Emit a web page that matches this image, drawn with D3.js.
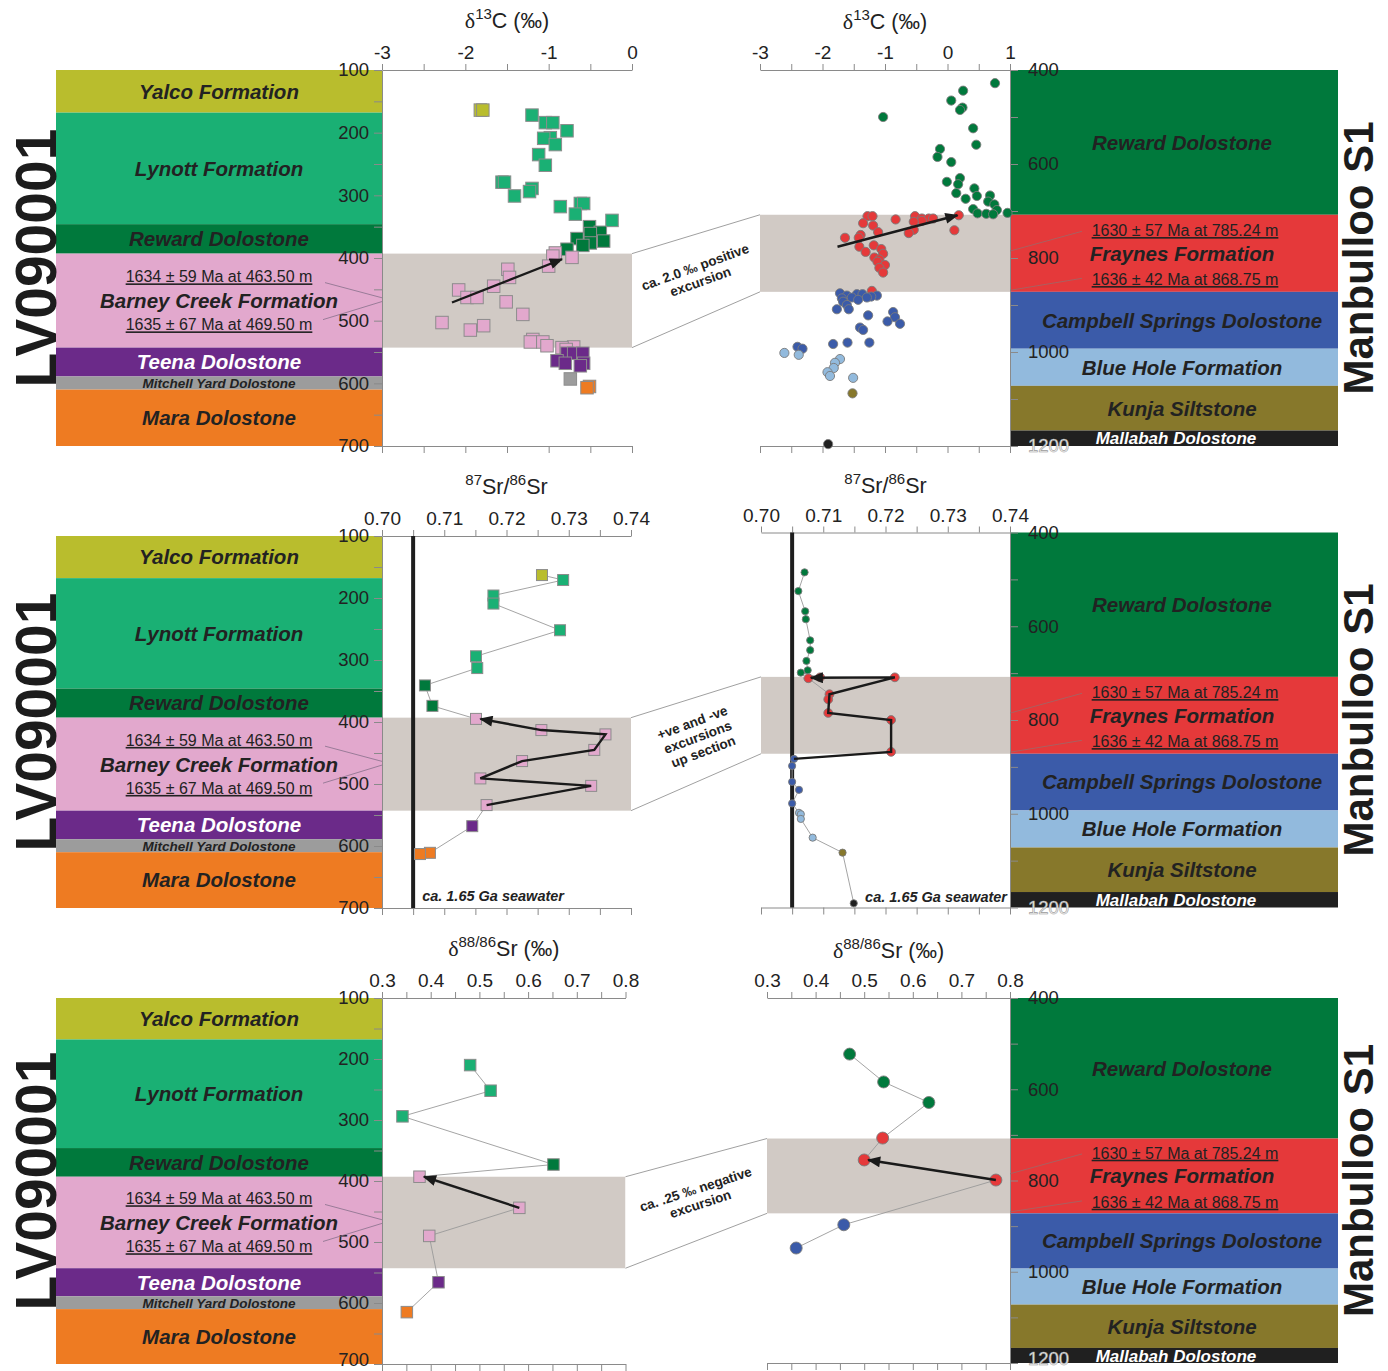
<!DOCTYPE html>
<html>
<head>
<meta charset="utf-8">
<script src="https://cdn.jsdelivr.net/npm/d3@7"></script>
<style>
  body { margin: 0; background: #fff; }
  svg text { font-family: "Liberation Sans", Arial, Helvetica, sans-serif; }
</style>
</head>
<body>
<svg id="chart" width="1388" height="1371"></svg>
<script>
// ---------- Stratigraphy: LV090001 (left) and Manbulloo S1 (right) ----------
const lvUnitKeys  = ["YAL", "LYN", "REW", "BCF", "TEE", "MYD", "MAR"];
const lvUnitNames = ["Yalco Formation", "Lynott Formation", "Reward Dolostone", "Barney Creek Formation",
                     "Teena Dolostone", "Mitchell Yard Dolostone", "Mara Dolostone"];
const lvUnitTops  = [100, 168, 346, 393, 543, 589, 610];
const lvUnitBases = [168, 346, 393, 543, 589, 610, 700];

const mbUnitKeys  = ["REW", "FRA", "CSD", "BHF", "KUN", "MAL"];
const mbUnitNames = ["Reward Dolostone", "Fraynes Formation", "Campbell Springs Dolostone",
                     "Blue Hole Formation", "Kunja Siltstone", "Mallabah Dolostone"];
const mbUnitTops  = [400, 708, 872, 993, 1072, 1167];
const mbUnitBases = [708, 872, 993, 1072, 1167, 1200];

// Re-Os ages quoted inside the columns
const lvAgeLabels = ["1634 ± 59 Ma at 463.50 m", "1635 ± 67 Ma at 469.50 m"];
const lvAgeDepths = [463.5, 469.5];
const mbAgeLabels = ["1630 ± 57 Ma at 785.24 m", "1636 ± 42 Ma at 868.75 m"];
const mbAgeDepths = [785.24, 868.75];

// Depth tick labels (m)
const lvDepthLabels = ["100", "200", "300", "400", "500", "600", "700"];
const mbDepthLabels = ["400", "600", "800", "1000", "1200"];

// Isotope axis tick labels
const c13LabelsL  = ["-3", "-2", "-1", "0"];
const c13LabelsR  = ["-3", "-2", "-1", "0", "1"];
const sr87Labels  = ["0.70", "0.71", "0.72", "0.73", "0.74"];
const sr88Labels  = ["0.3", "0.4", "0.5", "0.6", "0.7", "0.8"];

// ---------- δ13C data: [depth m, δ13C ‰, unit] ----------
const lvC13 = [
  [164,-1.82,"YAL"],[164,-1.79,"YAL"],
  [172,-1.20,"LYN"],[184,-1.04,"LYN"],[184,-0.95,"LYN"],[197,-0.78,"LYN"],[208,-0.98,"LYN"],[209,-1.06,"LYN"],
  [219,-0.92,"LYN"],[235,-1.12,"LYN"],[252,-1.04,"LYN"],[279,-1.56,"LYN"],[279,-1.53,"LYN"],[289,-1.20,"LYN"],
  [294,-1.23,"LYN"],[301,-1.41,"LYN"],[313,-0.62,"LYN"],[313,-0.58,"LYN"],[318,-0.86,"LYN"],[330,-0.68,"LYN"],
  [340,-0.24,"LYN"],
  [350,-0.51,"REW"],[359,-0.38,"REW"],[361,-0.50,"REW"],[369,-0.66,"REW"],[373,-0.34,"REW"],[376,-0.50,"REW"],
  [380,-0.59,"REW"],[386,-0.78,"REW"],
  [392,-0.92,"BCF"],[397,-0.95,"BCF"],[399,-0.72,"BCF"],[413,-1.00,"BCF"],[418,-1.49,"BCF"],[431,-1.47,"BCF"],
  [445,-1.66,"BCF"],[451,-2.08,"BCF"],[463,-1.98,"BCF"],[463,-1.86,"BCF"],[470,-1.51,"BCF"],[490,-1.31,"BCF"],
  [503,-2.28,"BCF"],[508,-1.78,"BCF"],[515,-1.94,"BCF"],[530,-1.19,"BCF"],[534,-1.22,"BCF"],[534,-1.07,"BCF"],
  [540,-1.02,"BCF"],[542,-0.70,"BCF"],[543,-0.84,"BCF"],[546,-0.79,"BCF"],
  [552,-0.78,"TEE"],[552,-0.70,"TEE"],[552,-0.59,"TEE"],[564,-0.90,"TEE"],[568,-0.80,"TEE"],[568,-0.58,"TEE"],
  [572,-0.62,"TEE"],
  [593,-0.74,"MYD"],
  [605,-0.51,"MAR"],[607,-0.54,"MAR"]
];
const mbC13 = [
  [428,0.76,"REW"],[444,0.25,"REW"],[465,0.06,"REW"],[480,0.24,"REW"],[485,0.20,"REW"],[500,-1.03,"REW"],
  [524,0.41,"REW"],[559,0.46,"REW"],[568,-0.12,"REW"],[585,-0.16,"REW"],[596,0.06,"REW"],[630,0.20,"REW"],
  [638,-0.01,"REW"],[643,0.17,"REW"],[652,0.43,"REW"],[662,0.14,"REW"],[667,0.68,"REW"],[668,0.47,"REW"],
  [674,0.29,"REW"],[680,0.65,"REW"],[686,0.75,"REW"],[696,0.41,"REW"],[698,0.79,"REW"],[704,0.96,"REW"],
  [705,0.48,"REW"],[706,0.62,"REW"],[707,0.73,"REW"],
  [709,0.18,"FRA"],[711,-1.28,"FRA"],[711,-1.20,"FRA"],[711,-0.52,"FRA"],[716,-0.41,"FRA"],[716,-0.30,"FRA"],
  [716,-0.23,"FRA"],[718,-0.83,"FRA"],[721,-0.41,"FRA"],[723,-0.54,"FRA"],[726,-1.35,"FRA"],[731,-1.19,"FRA"],
  [740,-0.54,"FRA"],[741,0.11,"FRA"],[745,-1.11,"FRA"],[747,-0.62,"FRA"],[751,-1.39,"FRA"],[757,-1.42,"FRA"],
  [757,-1.64,"FRA"],[773,-1.18,"FRA"],[776,-1.41,"FRA"],[781,-1.06,"FRA"],[787,-1.31,"FRA"],[791,-1.03,"FRA"],
  [799,-1.17,"FRA"],[803,-1.09,"FRA"],[808,-1.12,"FRA"],[815,-1.00,"FRA"],[821,-1.09,"FRA"],[831,-1.03,"FRA"],
  [870,-1.21,"FRA"],
  [875,-1.72,"CSD"],[877,-1.45,"CSD"],[877,-1.36,"CSD"],[880,-1.61,"CSD"],[880,-1.13,"CSD"],[882,-1.22,"CSD"],
  [884,-1.53,"CSD"],[884,-1.29,"CSD"],[886,-1.69,"CSD"],[889,-1.43,"CSD"],[893,-1.67,"CSD"],[900,-1.61,"CSD"],
  [909,-1.77,"CSD"],[909,-1.58,"CSD"],[915,-0.87,"CSD"],[922,-1.27,"CSD"],[926,-0.84,"CSD"],[935,-0.96,"CSD"],
  [940,-0.76,"CSD"],[948,-1.40,"CSD"],[953,-1.35,"CSD"],[980,-1.60,"CSD"],[980,-1.25,"CSD"],[983,-1.83,"CSD"],
  [989,-2.40,"CSD"],[993,-2.32,"CSD"],
  [1002,-2.61,"BHF"],[1006,-2.38,"BHF"],[1015,-1.72,"BHF"],[1023,-1.80,"BHF"],[1034,-1.82,"BHF"],
  [1043,-1.92,"BHF"],[1051,-1.88,"BHF"],[1055,-1.51,"BHF"],
  [1088,-1.52,"KUN"],
  [1196,-1.91,"MAL"]
];
const lvC13Trend = [[471,-2.16],[402,-0.84]];
const mbC13Trend = [[776,-1.76],[709,0.16]];

// ---------- 87Sr/86Sr data ----------
const lvSr87 = [
  [163,0.7257,"YAL"],
  [171,0.7291,"LYN"],[196,0.7179,"LYN"],[209,0.7179,"LYN"],[252,0.7286,"LYN"],[294,0.7151,"LYN"],[313,0.7153,"LYN"],
  [341,0.7069,"REW"],[374,0.7081,"REW"],
  [395,0.7151,"BCF"],[413,0.7256,"BCF"],[420,0.7359,"BCF"],[445,0.7341,"BCF"],[463,0.7225,"BCF"],
  [491,0.7158,"BCF"],[503,0.7336,"BCF"],[534,0.7168,"BCF"],
  [568,0.7145,"TEE"],
  [611,0.7077,"MAR"],[613,0.7061,"MAR"]
];
const mbSr87 = [
  [485,0.7070,"REW"],[525,0.7060,"REW"],[568,0.7071,"REW"],[585,0.7072,"REW"],[630,0.7079,"REW"],
  [651,0.7079,"REW"],[674,0.7073,"REW"],[694,0.7075,"REW"],[699,0.7064,"REW"],
  [709,0.7095,"FRA"],[709,0.7215,"FRA"],[711,0.7076,"FRA"],[745,0.7110,"FRA"],[756,0.7108,"FRA"],
  [785,0.7108,"FRA"],[800,0.7209,"FRA"],[868,0.7209,"FRA"],
  [883,0.7053,"CSD"],[898,0.7050,"CSD"],[932,0.7050,"CSD"],[949,0.7061,"CSD"],[978,0.7050,"CSD"],
  [998,0.7061,"BHF"],[1001,0.7064,"BHF"],[1011,0.7064,"BHF"],[1051,0.7083,"BHF"],
  [1083,0.7131,"KUN"],
  [1191,0.7149,"MAL"]
];
const lvSr87Trend = [[534,0.7168],[503,0.7336],[491,0.7158],[463,0.7225],[445,0.7341],[420,0.7359],[413,0.7256],[395,0.7158]];
const mbSr87Trend = [[883,0.7053],[868,0.7209],[800,0.7209],[785,0.7108],[745,0.7110],[709,0.7215],[710,0.7080]];
const seawaterSr = 0.705;

// ---------- δ88/86Sr data ----------
const lvSr88 = [
  [210,0.481,"LYN"],[252,0.523,"LYN"],[294,0.342,"LYN"],
  [373,0.652,"REW"],
  [393,0.377,"BCF"],[444,0.582,"BCF"],[490,0.397,"BCF"],
  [566,0.416,"TEE"],
  [615,0.351,"MAR"]
];
const mbSr88 = [
  [523,0.470,"REW"],[584,0.540,"REW"],[629,0.633,"REW"],
  [707,0.538,"FRA"],[755,0.500,"FRA"],[799,0.771,"FRA"],
  [897,0.458,"CSD"],[948,0.360,"CSD"]
];
const lvSr88Trend = [[444,0.582],[393,0.386]];
const mbSr88Trend = [[799,0.771],[755,0.508]];

// ---------- styling ----------
const unitColor = {
  YAL: "#b9bd2d", LYN: "#1ab074", REW: "#00793c", BCF: "#e2a8cd", TEE: "#6b2a89", MYD: "#9c9c9c",
  MAR: "#ee7b22", FRA: "#e5393a", CSD: "#3b5ba9", BHF: "#92badd", KUN: "#87782b", MAL: "#202020"
};
const whiteText = new Set(["TEE", "MAL"]);
const BAND = "#d1cac5";
const AXIS = "#8a8a8a";
const INK = "#222";

const panels = [
  { title: [["δ","g"],["13","s"],["C (‰)",""]],
    labelsL: c13LabelsL, labelsR: c13LabelsR, step: 0.5,
    left: lvC13, right: mbC13, trendL: lvC13Trend, trendR: mbC13Trend, connect: false,
    note: ["ca. 2.0 ‰ positive", "excursion"], seawater: false },
  { title: [["87","s"],["Sr/",""],["86","s"],["Sr",""]],
    labelsL: sr87Labels, labelsR: sr87Labels, step: 0.005,
    left: lvSr87, right: mbSr87, trendL: lvSr87Trend, trendR: mbSr87Trend, connect: true,
    note: ["+ve and -ve", "excursions", "up section"], seawater: true },
  { title: [["δ","g"],["88/86","s"],["Sr (‰)",""]],
    labelsL: sr88Labels, labelsR: sr88Labels, step: 0.05,
    left: lvSr88, right: mbSr88, trendL: lvSr88Trend, trendR: mbSr88Trend, connect: true,
    note: ["ca. .25 ‰ negative", "excursion"], seawater: false }
];

// pixel frame of each row of plots
const layout = [
  { yL: [70, 446],    yR: [70, 446],      xL: [382, 632],   xR: [760, 1010], sq: 12.5, r: 4.6, rBig: 4.6 },
  { yL: [536, 908],   yR: [532.5, 907.5], xL: [382, 631],   xR: [761, 1010], sq: 11,   r: 3.6, rBig: 4.4 },
  { yL: [998, 1364],  yR: [998, 1363],    xL: [382, 625.5], xR: [767, 1010], sq: 11.5, r: 6,   rBig: 6 }
];

const svg = d3.select("#chart");
const defs = svg.append("defs");
defs.append("marker")
  .attr("id", "arrowhead")
  .attr("viewBox", "0 0 12 10")
  .attr("refX", 11).attr("refY", 5)
  .attr("markerWidth", 14).attr("markerHeight", 11)
  .attr("markerUnits", "userSpaceOnUse")
  .attr("orient", "auto")
  .append("path").attr("d", "M0,0 L12,5 L0,10 Z").attr("fill", "#1a1a1a");

function labelFormat(labels) {
  return d => {
    const s = labels.find(l => Math.abs(+l - d) < 1e-9);
    return s === undefined ? "" : s;
  };
}

function styleAxis(sel, size) {
  sel.attr("font-family", null).attr("font-size", null);
  sel.select(".domain").attr("stroke", AXIS).attr("stroke-width", 1);
  sel.selectAll(".tick line").attr("stroke", AXIS).attr("stroke-width", 1);
  sel.selectAll(".tick text").attr("fill", INK).attr("font-size", size);
}

// keep depth labels at the foot of the page inside the canvas
function liftBottomLabels(sel) {
  sel.selectAll(".tick").each(function () {
    const tr = this.getAttribute("transform") || "";
    const m = /translate\([^,]+,([^)]+)\)/.exec(tr);
    if (m && +m[1] > 1358) d3.select(this).select("text").attr("dy", "0.1em");
  });
}

function drawTitle(g, x, y, parts) {
  const t = g.append("text").attr("x", x).attr("y", y).attr("text-anchor", "middle")
    .attr("font-size", 21.5).attr("fill", INK);
  let raised = false;
  parts.forEach(([s, kind]) => {
    const ts = t.append("tspan").text(s);
    if (kind === "s") {
      ts.attr("font-size", 15).attr("dy", raised ? 0 : -9);
      raised = true;
    } else {
      if (raised) { ts.attr("dy", 9); raised = false; }
      if (kind === "g") ts.attr("font-family", '"Liberation Serif", "DejaVu Serif", serif').attr("font-size", 22);
    }
  });
}

function drawPanel(p, i) {
  const L = layout[i];
  const g = svg.append("g");
  const yL = d3.scaleLinear([100, 700], L.yL);
  const yR = d3.scaleLinear([400, 1200], L.yR);
  const xL = d3.scaleLinear([+p.labelsL[0], +p.labelsL[p.labelsL.length - 1]], L.xL);
  const xR = d3.scaleLinear([+p.labelsR[0], +p.labelsR[p.labelsR.length - 1]], L.xR);

  // excursion intervals: Barney Creek Fm (LV090001) and Fraynes Fm (Manbulloo S1)
  const bL = [yL(lvUnitTops[3]), yL(lvUnitBases[3])];
  const bR = [yR(mbUnitTops[1]), yR(mbUnitBases[1])];
  g.append("rect").attr("x", L.xL[0]).attr("y", bL[0]).attr("width", L.xL[1] - L.xL[0])
    .attr("height", bL[1] - bL[0]).attr("fill", BAND);
  g.append("rect").attr("x", L.xR[0]).attr("y", bR[0]).attr("width", L.xR[1] - L.xR[0])
    .attr("height", bR[1] - bR[0]).attr("fill", BAND);

  // correlation panel between the two bands
  const x0 = L.xL[1], x1 = L.xR[0];
  g.append("polygon")
    .attr("points", [[x0, bL[0]], [x1, bR[0]], [x1, bR[1]], [x0, bL[1]]].map(d => d.join(",")).join(" "))
    .attr("fill", "#fff");
  [[bL[0], bR[0]], [bL[1], bR[1]]].forEach(([a, b]) =>
    g.append("line").attr("x1", x0).attr("y1", a).attr("x2", x1).attr("y2", b)
      .attr("stroke", "#a0a0a0").attr("stroke-width", 1));
  const ang = Math.atan2(bR[0] - bL[0], x1 - x0) * 180 / Math.PI - 3;
  const cx = (x0 + x1) / 2 + 2, cy = (bL[0] + bL[1] + bR[0] + bR[1]) / 4 - 2;
  const note = g.append("text").attr("transform", `translate(${cx},${cy}) rotate(${ang})`)
    .attr("text-anchor", "middle").attr("font-size", 13.5).attr("font-weight", "bold").attr("fill", INK);
  const lh = 15.5;
  p.note.forEach((s, k) => note.append("tspan").attr("x", 0)
    .attr("y", (k - (p.note.length - 1) / 2) * lh + 4).text(s));

  // LV090001 column
  const colL = g.append("g");
  lvUnitKeys.forEach((k, j) => {
    const t = yL(lvUnitTops[j]), b = yL(lvUnitBases[j]);
    colL.append("rect").attr("x", 56).attr("y", t).attr("width", 382 - 56).attr("height", b - t)
      .attr("fill", unitColor[k]);
  });
  // Manbulloo S1 column
  const colR = g.append("g");
  mbUnitKeys.forEach((k, j) => {
    const t = yR(mbUnitTops[j]), b = yR(mbUnitBases[j]);
    colR.append("rect").attr("x", 1010).attr("y", t).attr("width", 1338 - 1010).attr("height", b - t)
      .attr("fill", unitColor[k]);
  });

  // depth axes
  const axL = g.append("g").attr("transform", `translate(${L.xL[0]},0)`)
    .call(d3.axisLeft(yL).tickValues(d3.range(100, 701, 50)).tickFormat(labelFormat(lvDepthLabels))
      .tickSize(8).tickSizeOuter(0).tickPadding(5));
  styleAxis(axL, 18.5);
  liftBottomLabels(axL);
  const axR = g.append("g").attr("transform", `translate(${L.xR[1]},0)`)
    .call(d3.axisRight(yR).tickValues(d3.range(400, 1201, 100)).tickFormat(labelFormat(mbDepthLabels))
      .tickSize(8).tickSizeOuter(0).tickPadding(10));
  styleAxis(axR, 18.5);
  liftBottomLabels(axR);
  axR.selectAll(".tick text").filter(d => d === 1200)
    .attr("fill", "#f4f4f4").attr("stroke", "#9a9a9a").attr("stroke-width", 0.6);

  // isotope axes, top and bottom of each plot
  const ticksL = d3.range(xL.domain()[0], xL.domain()[1] + p.step / 2, p.step);
  const ticksR = d3.range(xR.domain()[0], xR.domain()[1] + p.step / 2, p.step);
  [[xL, ticksL, p.labelsL, L.yL], [xR, ticksR, p.labelsR, L.yR]].forEach(([x, tv, lab, yr]) => {
    const top = g.append("g").attr("transform", `translate(0,${yr[0]})`)
      .call(d3.axisTop(x).tickValues(tv).tickFormat(labelFormat(lab)).tickSize(6).tickSizeOuter(0).tickPadding(5));
    styleAxis(top, 19);
    const bot = g.append("g").attr("transform", `translate(0,${yr[1]})`)
      .call(d3.axisBottom(x).tickValues(tv).tickFormat("").tickSize(7).tickSizeOuter(0));
    styleAxis(bot, 19);
  });

  drawTitle(g, (L.xL[0] + L.xL[1]) / 2, L.yL[0] - 42, p.title);
  drawTitle(g, (L.xR[0] + L.xR[1]) / 2, L.yR[0] - 42 + (i === 0 ? 1 : 2), p.title);

  // 1.65 Ga seawater reference
  if (p.seawater) {
    [[xL, L.yL], [xR, L.yR]].forEach(([x, yr]) =>
      g.append("line").attr("x1", x(seawaterSr)).attr("x2", x(seawaterSr))
        .attr("y1", yr[0]).attr("y2", yr[1]).attr("stroke", "#1e1e1e").attr("stroke-width", 4));
    g.append("text").attr("x", xL(seawaterSr) + 9).attr("y", L.yL[1] - 7)
      .attr("font-size", 14.5).attr("font-weight", "bold").attr("font-style", "italic").attr("fill", INK)
      .text("ca. 1.65 Ga seawater");
    g.append("text").attr("x", L.xR[1] - 3).attr("y", L.yR[1] - 6).attr("text-anchor", "end")
      .attr("font-size", 14.5).attr("font-weight", "bold").attr("font-style", "italic").attr("fill", INK)
      .text("ca. 1.65 Ga seawater");
  }

  // grey sample-to-sample lines
  if (p.connect) {
    [[p.left, xL, yL], [p.right, xR, yR]].forEach(([data, x, y]) => {
      const sorted = data.slice().sort((a, b) => a[0] - b[0]);
      g.append("path").datum(sorted)
        .attr("d", d3.line().x(d => x(d[1])).y(d => y(d[0])))
        .attr("fill", "none").attr("stroke", "#9a9a9a").attr("stroke-width", 0.9);
    });
  }

  // LV090001 samples (squares)
  g.append("g").selectAll("rect").data(p.left).join("rect")
    .attr("x", d => xL(d[1]) - L.sq / 2).attr("y", d => yL(d[0]) - L.sq / 2)
    .attr("width", L.sq).attr("height", L.sq)
    .attr("fill", d => unitColor[d[2]]).attr("stroke", "#8c8c8c").attr("stroke-width", 1);
  // Manbulloo S1 samples (circles)
  g.append("g").selectAll("circle").data(p.right).join("circle")
    .attr("cx", d => xR(d[1])).attr("cy", d => yR(d[0]))
    .attr("r", d => d[2] === "FRA" ? L.rBig : L.r)
    .attr("fill", d => unitColor[d[2]]).attr("stroke", "#7a7a7a").attr("stroke-width", 0.9);

  // trend arrows
  [[p.trendL, xL, yL], [p.trendR, xR, yR]].forEach(([tr, x, y]) =>
    g.append("path").datum(tr)
      .attr("d", d3.line().x(d => x(d[1])).y(d => y(d[0])))
      .attr("fill", "none").attr("stroke", "#1a1a1a").attr("stroke-width", 2.4)
      .attr("stroke-linejoin", "miter").attr("marker-end", "url(#arrowhead)"));

  // unit names in the columns
  lvUnitKeys.forEach((k, j) => {
    const cy = (yL(lvUnitTops[j]) + yL(lvUnitBases[j])) / 2;
    g.append("text").attr("x", 219).attr("y", cy).attr("dy", "0.36em").attr("text-anchor", "middle")
      .attr("font-size", k === "MYD" ? 13.5 : 20.5).attr("font-weight", "bold").attr("font-style", "italic")
      .attr("fill", whiteText.has(k) ? "#fff" : INK).text(lvUnitNames[j]);
    if (k === "BCF") {
      [-24, 24].forEach((off, a) => {
        g.append("text").attr("x", 219).attr("y", cy + off).attr("dy", "0.36em").attr("text-anchor", "middle")
          .attr("font-size", 16).attr("fill", INK).attr("text-decoration", "underline").text(lvAgeLabels[a]);
        g.append("line").attr("x1", a === 0 ? 325 : 323).attr("y1", cy + off + (a === 0 ? 6 : -5))
          .attr("x2", L.xL[0]).attr("y2", yL(lvAgeDepths[a]))
          .attr("stroke", "#86708a").attr("stroke-width", 0.8);
      });
    }
  });
  mbUnitKeys.forEach((k, j) => {
    const cy = (yR(mbUnitTops[j]) + yR(mbUnitBases[j])) / 2;
    g.append("text").attr("x", k === "MAL" ? 1176 : 1182).attr("y", cy).attr("dy", "0.36em").attr("text-anchor", "middle")
      .attr("font-size", k === "MAL" ? 17 : 20.5).attr("font-weight", "bold").attr("font-style", "italic")
      .attr("fill", whiteText.has(k) ? "#fff" : INK).text(mbUnitNames[j]);
    if (k === "FRA") {
      [-23, 26].forEach((off, a) => {
        g.append("text").attr("x", 1185).attr("y", cy + off).attr("dy", "0.36em").attr("text-anchor", "middle")
          .attr("font-size", 16).attr("fill", INK).attr("text-decoration", "underline").text(mbAgeLabels[a]);
        g.append("line").attr("x1", 1082).attr("y1", cy + off + (a === 0 ? 1 : -1))
          .attr("x2", L.xR[1]).attr("y2", yR(mbAgeDepths[a]))
          .attr("stroke", "#9a6a6a").attr("stroke-width", 0.8);
      });
    }
  });

  // core names
  const midL = (L.yL[0] + L.yL[1]) / 2, midR = (L.yR[0] + L.yR[1]) / 2;
  g.append("text").attr("transform", `translate(35,${midL}) rotate(-90)`).attr("dy", "0.36em")
    .attr("text-anchor", "middle").attr("font-size", 57).attr("font-weight", "bold").attr("fill", "#1c1c1c")
    .text("LV090001");
  g.append("text").attr("transform", `translate(1358,${midR}) rotate(-90)`).attr("dy", "0.36em")
    .attr("text-anchor", "middle").attr("font-size", 42).attr("font-weight", "bold").attr("fill", "#1c1c1c")
    .text("Manbulloo S1");
}

panels.forEach(drawPanel);
</script>
</body>
</html>
